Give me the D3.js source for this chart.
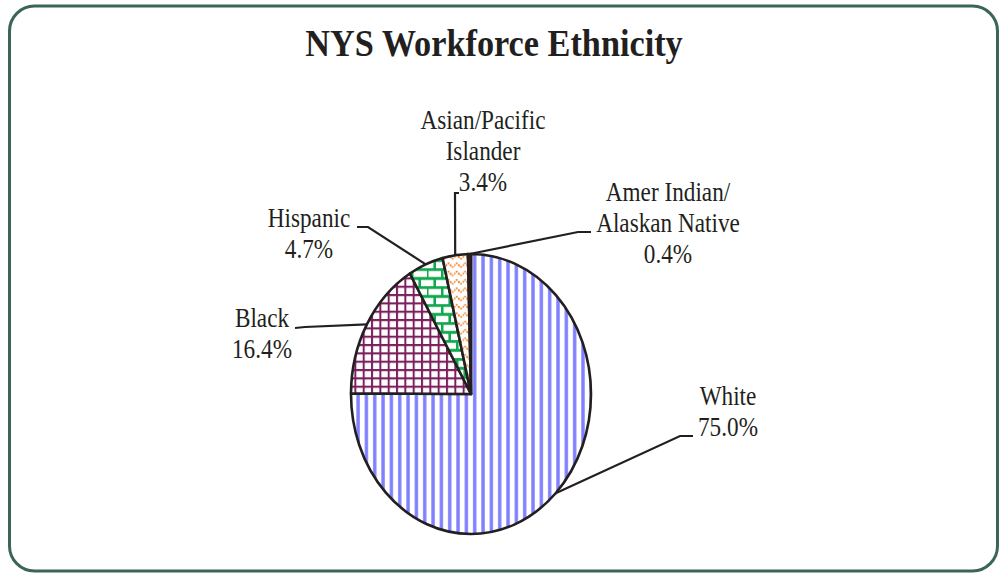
<!DOCTYPE html>
<html>
<head>
<meta charset="utf-8">
<script src="https://cdn.jsdelivr.net/npm/d3@7"></script>
<style>
body { margin: 0; background: #fff; }
</style>
</head>
<body>
<script>
// data //////////////////////////////////////////////
var categories = ["White", "Black", "Hispanic", "Asian/Pacific Islander", "Amer Indian/Alaskan Native"];
var values = [75.0, 16.4, 4.7, 3.4, 0.4];
var labelLines = [
	["White", "75.0%"],
	["Black", "16.4%"],
	["Hispanic", "4.7%"],
	["Asian/Pacific", "Islander", "3.4%"],
	["Amer Indian/", "Alaskan Native", "0.4%"]
];
var title = "NYS Workforce Ethnicity";

// layout ////////////////////////////////////////////
var width = 1000, height = 573;
var cx = 471, cy = 394, r = 120, sy = 140 / 120;   // pie is stretched vertically
var ink = "#231f20";
var fills = ["url(#pWhite)", "url(#pBlack)", "url(#pHisp)", "url(#pAsian)", "#c00000"];

// label anchor + elbow of the leader line, one per slice
var labelPos = [
	{x: 728, y: 405, elbow: [[680, 436], [693, 436]]},
	{x: 262, y: 327, elbow: [[305, 327], [295, 328]]},
	{x: 309, y: 227, elbow: [[368, 227], [357, 227]]},
	{x: 483, y: 129, elbow: [[455, 193], [459, 193]]},
	{x: 668, y: 201, elbow: [[578, 232], [591, 232]]}
];
var lineGap = 31;

var svg = d3.select("body")
	.append("svg")
		.attr("width", width)
		.attr("height", height);

// patterns ///////////////////////////////////////////
var defs = svg.append("defs");

var pw = defs.append("pattern").attr("id", "pWhite")
	.attr("patternUnits", "userSpaceOnUse").attr("width", 8.33).attr("height", 10);
pw.append("rect").attr("width", 8.33).attr("height", 10).attr("fill", "#fff");
pw.append("rect").attr("x", 2).attr("width", 3.4).attr("height", 10).attr("fill", "#8080ff");

var pb = defs.append("pattern").attr("id", "pBlack")
	.attr("patternUnits", "userSpaceOnUse").attr("width", 8.33).attr("height", 7.14);
pb.append("rect").attr("width", 8.33).attr("height", 7.14).attr("fill", "#fff");
pb.append("rect").attr("width", 2).attr("height", 7.14).attr("fill", "#7c1f5e");
pb.append("rect").attr("width", 8.33).attr("height", 1.8).attr("fill", "#7c1f5e");

var ph = defs.append("pattern").attr("id", "pHisp")
	.attr("patternUnits", "userSpaceOnUse").attr("width", 15).attr("height", 15.4);
ph.append("rect").attr("width", 15).attr("height", 15.4).attr("fill", "#fff");
ph.append("path")
	.attr("d", "M0,1 H15 M0,8.7 H15 M1.2,0 V8.7 M8.7,7.7 V15.4")
	.attr("stroke", "#12a84e").attr("stroke-width", 2.6).attr("fill", "none");

var pa = defs.append("pattern").attr("id", "pAsian")
	.attr("patternUnits", "userSpaceOnUse").attr("width", 8.33).attr("height", 7.14);
pa.append("rect").attr("width", 8.33).attr("height", 7.14).attr("fill", "#fff");
pa.append("path")
	.attr("d", "M0,4.5 Q2.08,0.5 4.17,3.5 T8.33,4.5")
	.attr("stroke", "#f07c1c").attr("stroke-width", 1.6).attr("fill", "none")
	.attr("stroke-dasharray", "1.6,1.1");

// frame ///////////////////////////////////////////////
svg.append("rect")
	.attr("x", 9.5).attr("y", 6)
	.attr("width", 988).attr("height", 565)
	.attr("rx", 25).attr("ry", 25)
	.attr("fill", "#fff")
	.attr("stroke", "#3b6555")
	.attr("stroke-width", 3);

// title ///////////////////////////////////////////////
svg.append("g")
	.attr("transform", "translate(494,56) scale(0.89,1)")
	.append("text")
		.attr("text-anchor", "middle")
		.attr("font-family", "'Liberation Serif', 'Times New Roman', serif")
		.attr("font-weight", "bold")
		.attr("font-size", 38.5)
		.attr("fill", ink)
		.text(title);

// pie /////////////////////////////////////////////////
var pie = d3.pie().sort(null).value(function(d){ return d; });
var arcs = pie(values);
var arc = d3.arc().innerRadius(0).outerRadius(r);
var edgeArc = d3.arc().innerRadius(r).outerRadius(r);

var g = svg.append("g")
	.attr("transform", "translate(" + cx + "," + cy + ") scale(1," + sy + ")");

g.selectAll("path.slice")
	.data(arcs)
	.enter()
	.append("path")
		.attr("class", "slice")
		.attr("d", arc)
		.attr("fill", function(d, i){ return fills[i]; })
		.attr("stroke", ink)
		.attr("stroke-width", 2.6)
		.attr("stroke-linejoin", "round")
		.attr("vector-effect", "non-scaling-stroke");

// leader lines + labels ///////////////////////////////
arcs.forEach(function(d, i)
{
	var c = edgeArc.centroid(d);
	var pts = [[cx + c[0], cy + c[1] * sy]].concat(labelPos[i].elbow);

	svg.append("path")
		.attr("d", d3.line()(pts))
		.attr("fill", "none")
		.attr("stroke", ink)
		.attr("stroke-width", 2.2);

	var t = svg.append("g")
		.attr("transform", "translate(" + labelPos[i].x + "," + labelPos[i].y + ") scale(0.86,1)")
		.append("text")
			.attr("text-anchor", "middle")
			.attr("font-family", "'Liberation Serif', 'Times New Roman', serif")
			.attr("font-size", 27)
			.attr("fill", ink);

	labelLines[i].forEach(function(s, j)
	{
		t.append("tspan")
			.attr("x", 0)
			.attr("y", j * lineGap)
			.text(s);
	});
});
</script>
</body>
</html>
